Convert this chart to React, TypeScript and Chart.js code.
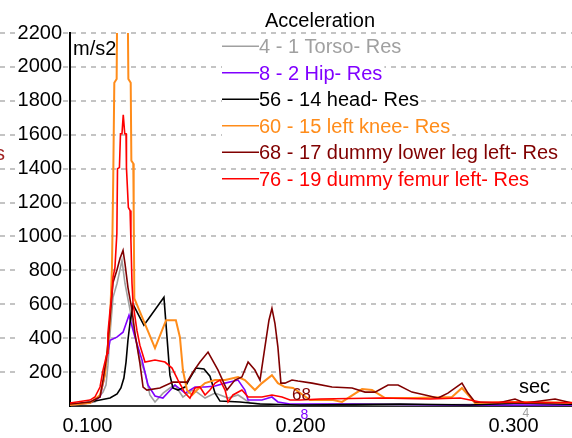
import React, { useEffect, useRef } from 'react';
import { Chart, registerables } from 'chart.js';

Chart.register(...registerables);

const FONT = "'Liberation Sans', Arial, sans-serif";

const titleText = 'Acceleration';
const yUnit = 'm/s2';
const xUnit = 'sec';
const xTicks = [0.1, 0.2, 0.3];
const xMin = 0.0918;
const xMax = 0.3406;
const yMin = 0;
const yMax = 2200;
const yStep = 200;

const seriesLabels = [
  '4 - 1 Torso- Res',
  '8 - 2 Hip- Res',
  '56 - 14 head- Res',
  '60 - 15 left knee- Res',
  '68 - 17 dummy lower leg left- Res',
  '76 - 19 dummy femur left- Res',
];
const seriesColors = ['#a0a0a0', '#8000ff', '#000000', '#ff8c1a', '#800000', '#ff0000'];

// 4 - 1 Torso
const torsoT = [0.0918, 0.1035, 0.1073, 0.1087, 0.1096, 0.1106, 0.112, 0.1139, 0.1162, 0.1176, 0.12, 0.1223, 0.1246, 0.127, 0.1293, 0.1317, 0.1355, 0.1387, 0.1411, 0.1448, 0.1491, 0.1514, 0.1552, 0.1599, 0.166, 0.1707, 0.1763, 0.1904, 0.2185, 0.2467, 0.3031, 0.3406];
const torsoV = [6, 24, 82, 124, 241, 429, 641, 724, 859, 724, 565, 418, 271, 200, 65, 24, 76, 106, 124, 53, 94, 82, 47, 76, 47, 65, 18, 6, 12, 6, 12, 6];

// 8 - 2 Hip
const hipT = [0.0918, 0.1012, 0.1059, 0.1077, 0.1092, 0.1106, 0.1138, 0.1167, 0.1195, 0.1223, 0.1256, 0.1284, 0.1317, 0.1354, 0.1411, 0.1458, 0.1505, 0.1552, 0.1599, 0.1646, 0.1707, 0.1739, 0.1754, 0.1819, 0.1866, 0.1894, 0.1951, 0.2242, 0.2711, 0.3406];
const hipV = [6, 18, 53, 153, 288, 388, 406, 435, 535, 406, 271, 124, 59, 47, 124, 76, 112, 112, 118, 135, 153, 94, 35, 35, 53, 24, 12, 12, 6, 6];

// 56 - 14 head
const headT = [0.0918, 0.1012, 0.1059, 0.1106, 0.1139, 0.1157, 0.1171, 0.1181, 0.119, 0.12, 0.1214, 0.1265, 0.1359, 0.1387, 0.1401, 0.1425, 0.1458, 0.1481, 0.1509, 0.1547, 0.1575, 0.1599, 0.1622, 0.1716, 0.181, 0.1998, 0.2467, 0.2796, 0.3031, 0.3406];
const headV = [6, 24, 35, 47, 71, 106, 165, 259, 388, 494, 600, 476, 641, 182, 106, 94, 112, 165, 224, 218, 176, 76, 29, 24, 12, 6, 12, 6, 18, 6];

// 60 - 15 left knee
const kneeT = [0.0918, 0.1012, 0.1059, 0.1082, 0.1096, 0.1106, 0.1115, 0.1121, 0.1126, 0.1137, 0.1148, 0.1162, 0.1178, 0.1192, 0.1203, 0.1206, 0.1215, 0.1217, 0.122, 0.1317, 0.1369, 0.1415, 0.1434, 0.1448, 0.1467, 0.1491, 0.1514, 0.1552, 0.1599, 0.1646, 0.1707, 0.1739, 0.1786, 0.1819, 0.1866, 0.1894, 0.1927, 0.1965, 0.2045, 0.2153, 0.2195, 0.2289, 0.2336, 0.2397, 0.2528, 0.2711, 0.2758, 0.2796, 0.2819, 0.3007, 0.3406];
const kneeV = [6, 18, 65, 182, 359, 506, 818, 1347, 1906, 1929, 3800, 4400, 3900, 1929, 1906, 1447, 1430, 1153, 635, 341, 506, 506, 406, 212, 94, 65, 94, 135, 153, 153, 171, 153, 94, 135, 182, 135, 112, 106, 35, 35, 24, 100, 94, 47, 47, 53, 106, 53, 18, 24, 18];

// 68 - 17 dummy lower leg left
const lowerLegT = [0.0918, 0.1012, 0.1059, 0.1073, 0.1092, 0.1106, 0.112, 0.1138, 0.1153, 0.1167, 0.1176, 0.119, 0.1209, 0.1223, 0.1246, 0.1261, 0.1279, 0.134, 0.1401, 0.1467, 0.1495, 0.1528, 0.1566, 0.1613, 0.1655, 0.1692, 0.1725, 0.1754, 0.1786, 0.181, 0.1833, 0.1852, 0.1866, 0.188, 0.1894, 0.1908, 0.1927, 0.196, 0.1988, 0.2054, 0.2148, 0.2242, 0.2303, 0.235, 0.2411, 0.2458, 0.2523, 0.2585, 0.2646, 0.2692, 0.2758, 0.2786, 0.2819, 0.2927, 0.3007, 0.3054, 0.3195, 0.3275, 0.3406];
const lowerLegV = [12, 24, 53, 153, 312, 524, 729, 800, 871, 918, 841, 700, 565, 429, 253, 112, 94, 106, 141, 141, 200, 259, 318, 212, 94, 153, 171, 259, 212, 153, 347, 506, 576, 488, 347, 135, 135, 153, 147, 135, 112, 106, 82, 82, 124, 124, 82, 65, 47, 76, 135, 76, 24, 18, 41, 18, 41, 18, 12];

// 76 - 19 dummy femur left
const femurT = [0.0918, 0.1012, 0.1035, 0.1059, 0.1073, 0.1092, 0.1096, 0.1106, 0.1115, 0.112, 0.1129, 0.1138, 0.1141, 0.115, 0.1155, 0.1162, 0.1168, 0.1175, 0.1181, 0.1183, 0.1192, 0.12, 0.1204, 0.1209, 0.1214, 0.1232, 0.1246, 0.127, 0.1317, 0.1364, 0.1397, 0.1425, 0.1458, 0.1481, 0.1505, 0.1528, 0.1552, 0.1575, 0.1599, 0.1622, 0.1646, 0.166, 0.1683, 0.1725, 0.1754, 0.1819, 0.1866, 0.1913, 0.1951, 0.1998, 0.2092, 0.2373, 0.2608, 0.2749, 0.2843, 0.3406];
const femurV = [18, 35, 53, 112, 212, 312, 429, 565, 665, 759, 818, 1018, 1400, 1406, 1606, 1606, 1718, 1606, 1606, 1406, 1171, 1153, 976, 724, 606, 447, 359, 259, 271, 259, 224, 153, 76, 47, 106, 112, 65, 94, 135, 153, 94, 24, 65, 94, 53, 53, 65, 53, 35, 35, 41, 47, 41, 47, 24, 18];

const seriesT = [torsoT, hipT, headT, kneeT, lowerLegT, femurT];
const seriesV = [torsoV, hipV, headV, kneeV, lowerLegV, femurV];
const seriesWidths = [1.6, 1.6, 1.6, 2, 1.6, 1.6];
const seriesOrder = [6, 5, 4, 3, 2, 1];

const overlayPlugin = {
  id: 'overlay',
  afterDraw(chart: any) {
    const ctx = chart.ctx as CanvasRenderingContext2D;
    const yScale = chart.scales.y;
    const xScale = chart.scales.x;
    const area = chart.chartArea;
    ctx.save();

    // grid stubs left of the value axis
    ctx.strokeStyle = '#c4c4c4';
    ctx.lineWidth = 2;
    ctx.setLineDash([5, 5]);
    yScale.ticks.forEach((t: any) => {
      if (t.value <= 0) return;
      const py = Math.round(yScale.getPixelForValue(t.value));
      ctx.beginPath();
      ctx.moveTo(0, py);
      ctx.lineTo(18, py);
      ctx.moveTo(63, py);
      ctx.lineTo(area.left - 1, py);
      ctx.stroke();
    });
    ctx.setLineDash([]);

    // title
    ctx.fillStyle = '#000';
    ctx.font = `20px ${FONT}`;
    ctx.textAlign = 'center';
    ctx.textBaseline = 'alphabetic';
    ctx.fillText(titleText, 320, 27);

    // units
    ctx.textAlign = 'left';
    ctx.fillText(yUnit, area.left + 3, 55);
    ctx.fillText(xUnit, 519, 393);

    // legend
    const lx = 222;
    const lineLen = 37;
    chart.data.datasets.forEach((ds: any, i: number) => {
      const base = 53.3 + i * 26.5;
      ctx.font = `20px ${FONT}`;
      const w = ctx.measureText(ds.label).width;
      ctx.fillStyle = '#fff';
      ctx.fillRect(lx, base - 15, lineLen + w + 2, 20);
      ctx.strokeStyle = ds.borderColor;
      ctx.lineWidth = 1.5;
      ctx.beginPath();
      ctx.moveTo(lx, base - 7);
      ctx.lineTo(lx + lineLen, base - 7);
      ctx.stroke();
      ctx.fillStyle = ds.borderColor;
      ctx.fillText(ds.label, lx + lineLen, base);
    });

    // cursor marker labels
    ctx.fillStyle = '#800000';
    ctx.font = `17px ${FONT}`;
    ctx.fillText('68', 292, 400);
    ctx.fillStyle = '#8000ff';
    ctx.font = `14px ${FONT}`;
    ctx.fillText('8', xScale.getPixelForValue(0.2) + 0, 419);
    ctx.fillStyle = '#a0a0a0';
    ctx.font = `12px ${FONT}`;
    ctx.fillText('4', xScale.getPixelForValue(0.3) + 9, 417);

    // clipped text from neighbour panel
    ctx.fillStyle = '#a02020';
    ctx.font = `20px ${FONT}`;
    ctx.textAlign = 'right';
    ctx.fillText('s', 5, 160);

    ctx.restore();
  },
};

export default function App() {
  const ref = useRef<HTMLCanvasElement>(null);

  useEffect(() => {
    const canvas = ref.current;
    if (!canvas) return;
    const datasets = seriesLabels.map((label, i) => ({
      label,
      data: seriesT[i].map((t, j) => ({ x: t, y: seriesV[i][j] })),
      borderColor: seriesColors[i],
      backgroundColor: seriesColors[i],
      borderWidth: seriesWidths[i],
      pointRadius: 0,
      tension: 0,
      fill: false,
      order: seriesOrder[i],
    }));

    const chart = new Chart(canvas, {
      type: 'line',
      data: { datasets },
      options: {
        responsive: false,
        animation: false,
        devicePixelRatio: 1,
        layout: { padding: { top: 33, left: 0, right: 0, bottom: 0 } },
        plugins: {
          legend: { display: false },
          title: { display: false },
          tooltip: { enabled: false },
        },
        scales: {
          x: {
            type: 'linear',
            min: xMin,
            max: xMax,
            afterBuildTicks: (s: any) => {
              s.ticks = xTicks.map((v) => ({ value: v }));
            },
            afterFit: (s: any) => {
              s.height = 32;
            },
            grid: { display: false },
            border: { display: true, color: '#303030', width: 2 },
            ticks: {
              color: '#000',
              font: { family: FONT, size: 20 },
              padding: 0,
              maxRotation: 0,
              autoSkip: false,
              callback: (v: any) => Number(v).toFixed(3),
            },
          },
          y: {
            type: 'linear',
            min: yMin,
            max: yMax,
            afterFit: (s: any) => {
              s.width = 70;
            },
            grid: {
              color: (c: any) => (c.tick && c.tick.value === 0 ? 'rgba(0,0,0,0)' : '#c4c4c4'),
              lineWidth: 2,
              drawTicks: false,
            },
            border: { display: true, color: '#000', width: 2, dash: [5, 5] },
            ticks: {
              stepSize: yStep,
              color: '#000',
              font: { family: FONT, size: 20 },
              padding: 8,
              callback: (v: any) => (Number(v) === 0 ? '' : String(v)),
            },
          },
        },
      },
      plugins: [overlayPlugin],
    });
    return () => chart.destroy();
  }, []);

  return (
    <div
      style={{
        position: 'absolute',
        left: 0,
        top: 0,
        width: 572,
        height: 438,
        overflow: 'hidden',
        background: '#fff',
      }}
    >
      <canvas ref={ref} width={600} height={438} style={{ display: 'block', width: 600, height: 438 }} />
    </div>
  );
}
